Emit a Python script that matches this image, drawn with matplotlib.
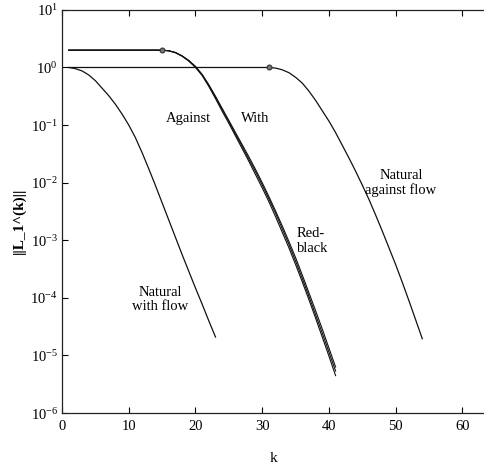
import numpy as np
import matplotlib
matplotlib.use('Agg')
import matplotlib.pyplot as plt

########## Data (log10 of ||L_1^(k)||) ##########
k_with_flow = np.arange(1 , 24)
log_with_flow = [0 , -0.02 , -0.06 , -0.13 , -0.23 , -0.36 , -0.49 , -0.64 , -0.81 , -1.0 ,
                 -1.22 , -1.48 , -1.76 , -2.05 , -2.35 , -2.65 , -2.95 , -3.25 , -3.54 ,
                 -3.83 , -4.11 , -4.4 , -4.68]

k_against_flow = np.arange(1 , 55)
log_against_flow = [0] * 31 + [-0.01 , -0.04 , -0.09 , -0.17 , -0.27 , -0.41 , -0.57 , -0.75 ,
                               -0.93 , -1.13 , -1.35 , -1.57 , -1.8 , -2.04 , -2.29 , -2.56 ,
                               -2.84 , -3.13 , -3.42 , -3.73 , -4.05 , -4.38 , -4.71]

k_cluster = np.arange(1 , 42)
log_against = [0.301] * 15 + [0.29 , 0.26 , 0.2 , 0.12 , 0.02 , -0.12 , -0.3 , -0.5 , -0.71 ,
                              -0.92 , -1.13 , -1.34 , -1.55 , -1.77 , -2.0 , -2.24 , -2.49 ,
                              -2.75 , -3.02 , -3.3 , -3.6 , -3.91 , -4.22 , -4.54 , -4.87 , -5.2]
log_with = [0.301] * 15 + [0.29 , 0.26 , 0.2 , 0.12 , 0.01 , -0.13 , -0.31 , -0.52 , -0.73 ,
                           -0.94 , -1.16 , -1.37 , -1.59 , -1.81 , -2.04 , -2.28 , -2.53 ,
                           -2.8 , -3.07 , -3.36 , -3.66 , -3.97 , -4.29 , -4.61 , -4.94 , -5.27]
log_redblack = [0.301] * 15 + [0.29 , 0.255 , 0.195 , 0.11 , 0.0 , -0.14 , -0.33 , -0.54 , -0.76 ,
                               -0.97 , -1.19 , -1.41 , -1.63 , -1.86 , -2.09 , -2.33 , -2.59 ,
                               -2.86 , -3.13 , -3.42 , -3.72 , -4.03 , -4.35 , -4.68 , -5.01 , -5.35]

marker_k = [15 , 31]
marker_log = [0.301 , 0]

########## Style ##########
plt.rcParams['font.family'] = ['Liberation Serif' , 'DejaVu Serif']
plt.rcParams['mathtext.fontset'] = 'stix'
plt.rcParams['font.size'] = 10.5

########## Plot ##########
fig = plt.figure(figsize = [4.85 , 4.71] , dpi = 100)
ax = fig.add_axes([0.128 , 0.123 , 0.872 , 0.856])

lc = '#111111'
ax.plot(k_with_flow , 10 ** np.array(log_with_flow) , color = lc , lw = 0.9)
ax.plot(k_against_flow , 10 ** np.array(log_against_flow) , color = lc , lw = 0.9)
ax.plot(k_cluster , 10 ** np.array(log_against) , color = lc , lw = 0.8)
ax.plot(k_cluster , 10 ** np.array(log_with) , color = lc , lw = 0.8)
ax.plot(k_cluster , 10 ** np.array(log_redblack) , color = lc , lw = 0.8)
ax.plot(marker_k , 10 ** np.array(marker_log) , 'o' , ms = 3.5 , mfc = '#777777' , mec = '#333333' , mew = 0.8 , ls = 'none')

ax.set_yscale('log')
ax.set_xlim(0 , 63.4)
ax.set_ylim(1e-6 , 10)
ax.set_xticks([0 , 10 , 20 , 30 , 40 , 50 , 60])
ax.set_yticks([1e-6 , 1e-5 , 1e-4 , 1e-3 , 1e-2 , 1e-1 , 1 , 10])
ax.minorticks_off()
ax.tick_params(axis = 'x' , direction = 'in' , top = True , length = 4 , width = 0.8 , pad = 5)
ax.tick_params(axis = 'y' , direction = 'in' , length = 4 , width = 0.8 , pad = 3)
ax.spines['right'].set_visible(False)
for s in ['left' , 'top' , 'bottom']:
    ax.spines[s].set_linewidth(0.9)
    ax.spines[s].set_color('#222222')

ax.set_xlabel('k' , labelpad = 14 , fontsize = 11)
ax.set_ylabel('||L_1^(k)||' , fontweight = 'bold' , fontsize = 11)
ax.yaxis.set_label_coords(-0.085 , 0.478)

ax.text(19.0 , 10 ** -0.88 , 'Against' , ha = 'center' , va = 'center')
ax.text(29.0 , 10 ** -0.88 , 'With' , ha = 'center' , va = 'center')
ax.text(50.8 , 10 ** -2.01 , 'Natural\nagainst flow' , ha = 'center' , va = 'center' , linespacing = 1.15)
ax.text(35.2 , 10 ** -3.01 , 'Red-\nblack' , ha = 'left' , va = 'center' , linespacing = 1.15)
ax.text(14.7 , 10 ** -4.03 , 'Natural\nwith flow' , ha = 'center' , va = 'center' , linespacing = 1.15)

fig.savefig('out.png' , dpi = 100)
